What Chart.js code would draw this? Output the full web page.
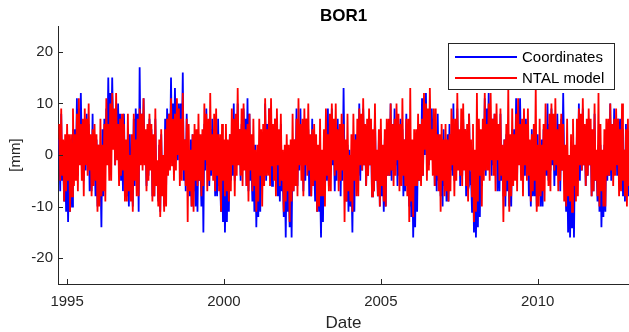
<!DOCTYPE html>
<html>
<head>
<meta charset="utf-8">
<script src="https://cdn.jsdelivr.net/npm/chart.js@4"></script>
<style>
  body { margin: 0; background: #fff; }
  canvas { display: block; }
</style>
</head>
<body>
<canvas id="js-bor1-chart" width="629" height="332"></canvas>
<script>
const chartTitle = 'BOR1';
const seriesLabels = ['Coordinates', 'NTAL model'];
const seriesColors = ['#0000ff', '#ff0000'];
const xTicks = [1995, 2000, 2005, 2010];
const yTicks = [-20, -10, 0, 10, 20];

// sampling of the series: 32 values per year from 1994.75
const startYear = 1994.75;
const stepYear = 1 / 32;

// [mm] (one row per year)
const coordinates = [
  3, -7, 8, -5, -2, -9, 2, -11,
  3, -13, -2, -11, 3, -10, 5, -4, 5, -3, 11, -4, 9, 0, 12, 1, 5, -5, 6, -3, 8, -1, 6, -7, 3, -7, 8, -5, -1, -8, 3, -10,
  2, -9, -3, -14, 5, -8, 7, -2, 9, 1, 15, 0, 12, 3, 15, 4, 8, -2, 9, 0, 10, 1, 8, -5, 3, -7, 8, -5, -1, -8, 3, -10,
  4, -7, -1, -10, 7, -6, 9, 0, 8, -11, 17, -1, 8, -1, 11, 0, 4, -6, 5, -4, 7, -2, 5, -8, 2, -8, 7, -6, -2, -9, 2, -11,
  4, -7, -1, -10, 7, -6, 9, 0, 8, 0, 15, -1, 10, 1, 13, 2, 9, -1, 10, 1, 10, 1, 16, -5, 3, -7, 8, -5, -1, -8, 3, -10,
  4, -7, -1, -10, 2, -11, 4, -5, -2, -10, 4, -15, 6, -3, 9, -2, 4, -6, 5, -4, 7, -2, 5, -8, 2, -8, 7, -6, -4, -11, 0, -13,
  1, -15, -4, -13, 2, -11, 4, -5, 4, -4, 10, -5, 7, -2, 10, -1, 5, -5, 6, -3, 9, 0, 7, -6, 11, -7, 8, -5, -2, -9, 2, -11,
  2, -14, -3, -12, 2, -11, 4, -5, 4, -4, 10, -5, 6, -3, 9, -2, 4, -6, 5, -4, 7, -2, 5, -8, 1, -9, 6, -7, -5, -12, -1, -16,
  0, -11, -5, -14, 0, -16, 2, -7, 3, -5, 9, -6, 6, -3, 9, -2, 3, -7, 4, -5, 7, -2, 5, -8, 2, -8, 7, -6, -2, -9, 2, -11,
  0, -11, -5, -16, 0, -13, 2, -7, 3, -5, 9, -6, 6, -3, 9, -2, 3, -7, 4, -5, 7, -2, 5, -8, 5, -5, 13, -3, -2, -9, 2, -11,
  1, -10, -4, -15, 2, -11, 4, -5, 4, -4, 10, -5, 6, -3, 9, -2, 4, -6, 5, -4, 7, -2, 5, -8, 3, -7, 8, -5, -1, -8, 3, -10,
  3, -8, -2, -11, 3, -10, 5, -4, 4, -4, 10, -5, 6, -3, 9, -2, 4, -6, 5, -4, 7, -2, 5, -8, 3, -7, 8, -5, -3, -10, 1, -12,
  0, -16, -5, -14, 2, -11, 4, -5, 5, -3, 11, -4, 9, 0, 12, 1, 8, -2, 9, 0, 9, 0, 7, -6, 3, -7, 8, -5, -1, -8, 3, -10,
  5, -6, 0, -9, 4, -9, 6, -3, 4, -4, 10, -5, 6, -3, 9, -2, 4, -6, 5, -4, 7, -2, 5, -8, 3, -7, 8, -5, -4, -11, 0, -15,
  0, -16, -5, -14, 1, -12, 3, -6, 5, -3, 11, -4, 9, 0, 12, 1, 6, -4, 7, -2, 8, -1, 6, -7, 3, -7, 8, -5, -1, -8, 3, -10,
  4, -7, -1, -10, 3, -10, 5, -4, 5, -3, 11, -4, 8, -1, 11, 0, 4, -6, 5, -4, 7, -2, 5, -8, 0, -10, 5, -8, -1, -8, 3, -10,
  4, -7, -1, -10, 3, -10, 5, -4, 4, -4, 10, -5, 6, -3, 9, -2, 4, -6, 5, -4, 8, -1, 6, -7, 7, -3, 12, -1, -4, -11, 0, -15,
  0, -16, -5, -14, -1, -16, 1, -8, 4, -4, 10, -5, 6, -3, 9, -2, 4, -6, 5, -4, 7, -2, 5, -8, 3, -7, 8, -5, -2, -9, 2, -11,
  2, -14, -3, -12, 2, -11, 4, -5, 4, -4, 10, -5, 6, -3, 9, -2, 6, -4, 7, -2, 7, -2, 5, -8, 1, -9, 6, -7, -1, -8
];
const ntalModel = [
  6, -5, 9, -4, 3, -9, 4, -7,
  6, -5, 4, -11, 4, -8, 9, -6, 4, -5, 8, -7, 11, -2, 6, -5, 7, -8, 9, -2, 7, -4, 10, -3, 4, -8, 5, -6, 6, -5, 4, -11,
  2, -10, 7, -8, 2, -7, 6, -9, 11, -2, 6, -5, 10, -5, 12, 1, 9, -2, 12, -1, 6, -6, 7, -4, 8, -3, 6, -9, 3, -9, 8, -7,
  0, -9, 4, -11, 8, -5, 3, -8, 7, -8, 9, -2, 8, -3, 11, -2, 5, -7, 6, -5, 8, -3, 6, -9, 4, -8, 9, -6, -1, -10, 3, -12,
  5, -8, 0, -11, 5, -10, 7, -4, 8, -3, 11, -2, 7, -5, 8, -3, 11, 0, 9, -6, 7, -5, 12, -3, 3, -6, 7, -13, 6, -7, 1, -10,
  4, -11, 6, -5, 5, -6, 8, -5, 4, -8, 5, -6, 10, -1, 8, -7, 7, -5, 12, -3, 4, -5, 8, -7, 9, -4, 4, -7, 4, -11, 6, -5,
  3, -8, 6, -7, 3, -9, 4, -7, 9, -2, 7, -8, 8, -4, 13, -2, 5, -4, 9, -6, 10, -3, 5, -6, 6, -9, 8, -3, 4, -7, 7, -6,
  1, -11, 2, -9, 7, -4, 5, -10, 6, -6, 11, -4, 5, -4, 9, -6, 11, -2, 6, -5, 7, -8, 9, -2, 5, -6, 8, -5, 1, -11, 2, -9,
  4, -7, 2, -13, 3, -9, 8, -7, 3, -6, 7, -8, 11, -2, 6, -5, 7, -8, 9, -2, 7, -4, 10, -3, 4, -8, 5, -6, 6, -5, 4, -11,
  2, -10, 7, -8, 1, -8, 5, -10, 9, -4, 4, -7, 8, -7, 10, -1, 7, -4, 10, -3, 5, -7, 6, -5, 8, -3, 6, -13, 3, -9, 8, -7,
  0, -9, 4, -11, 8, -5, 3, -8, 7, -8, 9, -2, 8, -3, 11, -2, 6, -6, 7, -4, 9, -2, 7, -8, 5, -7, 10, -5, 1, -8, 5, -10,
  7, -6, 2, -9, 5, -10, 7, -4, 7, -4, 10, -3, 6, -6, 7, -4, 10, -1, 8, -7, 6, -6, 11, -4, 3, -6, 7, -8, 7, -13, 13, -9,
  3, -12, 5, -6, 5, -6, 8, -5, 6, -6, 7, -4, 12, 1, 10, -5, 9, -3, 13, -1, 5, -4, 9, -6, 9, -4, 4, -7, 4, -11, 6, -5,
  3, -8, 6, -7, 3, -9, 4, -7, 9, -2, 7, -8, 7, -5, 12, -3, 5, -4, 9, -6, 10, -3, 5, -6, 6, -9, 8, -3, 3, -8, 6, -13,
  1, -11, 12, -9, 7, -4, 5, -10, 7, -5, 12, -3, 6, -3, 10, -5, 12, -1, 7, -4, 8, -7, 10, -1, 6, -5, 9, -4, 2, -13, 3, -8,
  6, -5, 13, -11, 4, -8, 9, -6, 4, -5, 8, -7, 11, -2, 6, -5, 7, -8, 9, -2, 6, -5, 9, -4, 3, -9, 4, -7, 6, -5, 13, -11,
  2, -10, 7, -8, 2, -7, 6, -9, 10, -3, 5, -6, 8, -7, 10, -1, 8, -3, 11, -2, 5, -7, 6, -5, 8, -3, 6, -9, 2, -10, 7, -8,
  0, -9, 4, -11, 7, -6, 2, -9, 7, -8, 9, -2, 8, -3, 11, -2, 6, -6, 7, -4, 9, -2, 7, -8, 5, -7, 10, -5, 1, -8, 12, -10,
  6, -7, 1, -10, 5, -10, 7, -4, 7, -4, 10, -3, 6, -6, 7, -4, 9, -2, 7, -8, 5, -7, 10, -5, 1, -8, 5, -10, 7, -6
];

const toPoints = values => values.map((v, i) => ({ x: startYear + i * stepYear, y: v }));

const axisColor = '#262626';
const fontFamily = '"Liberation Sans", Arial, sans-serif';

// title, inward ticks and the boxed legend, MATLAB style
const matlabLook = {
  id: 'matlabLook',
  afterDraw(chart) {
    const { ctx, chartArea: { left, right, top, bottom }, scales: { x, y } } = chart;
    ctx.save();
    ctx.strokeStyle = axisColor;
    ctx.lineWidth = 1;
    x.ticks.forEach(t => {
      const px = Math.round(x.getPixelForValue(t.value)) + 0.5;
      ctx.beginPath();
      ctx.moveTo(px, bottom);
      ctx.lineTo(px, bottom - 5);
      ctx.stroke();
    });
    y.ticks.forEach(t => {
      const py = Math.round(y.getPixelForValue(t.value)) + 0.5;
      ctx.beginPath();
      ctx.moveTo(left, py);
      ctx.lineTo(left + 5, py);
      ctx.stroke();
    });

    ctx.fillStyle = '#000';
    ctx.font = 'bold 17px ' + fontFamily;
    ctx.textAlign = 'center';
    ctx.textBaseline = 'middle';
    ctx.fillText(chartTitle, (left + right) / 2, 16);

    // legend box
    const bx = 448.5, by = 43.5, bw = 166, bh = 46;
    ctx.fillStyle = '#fff';
    ctx.fillRect(bx, by, bw, bh);
    ctx.strokeStyle = axisColor;
    ctx.strokeRect(bx, by, bw, bh);
    ctx.font = '15px ' + fontFamily;
    ctx.textAlign = 'left';
    chart.data.datasets.forEach((ds, i) => {
      const ly = 57 + i * 21;
      ctx.strokeStyle = ds.borderColor;
      ctx.lineWidth = 2;
      ctx.beginPath();
      ctx.moveTo(455, ly);
      ctx.lineTo(517, ly);
      ctx.stroke();
      ctx.fillStyle = '#000';
      ctx.fillText(ds.label, 522, ly + 1);
    });
    ctx.restore();
  }
};

const ctx = document.getElementById('js-bor1-chart').getContext('2d');

const bor1Chart = new Chart(ctx, {
  type: 'line',
  data: {
    datasets: [
      { label: seriesLabels[0], data: toPoints(coordinates), borderColor: seriesColors[0], order: 1 },
      { label: seriesLabels[1], data: toPoints(ntalModel), borderColor: seriesColors[1], order: 0 }
    ]
  },
  options: {
    responsive: false,
    animation: false,
    layout: { padding: { top: 26, right: 0, left: 0, bottom: 0 } },
    elements: {
      point: { radius: 0 },
      line: { borderWidth: 1.8, tension: 0 }
    },
    plugins: {
      legend: { display: false },
      title: { display: false },
      tooltip: { enabled: false }
    },
    scales: {
      x: {
        type: 'linear',
        min: 1994.71,
        max: 2012.91,
        afterBuildTicks: s => { s.ticks = xTicks.map(v => ({ value: v })); },
        afterFit: s => { s.height = 48; },
        grid: { display: false, drawTicks: false },
        border: { display: true, color: axisColor, width: 1 },
        ticks: {
          padding: 9,
          color: axisColor,
          font: { family: fontFamily, size: 15 },
          maxRotation: 0,
          callback: v => String(v)
        },
        title: {
          display: true,
          text: 'Date',
          color: axisColor,
          font: { family: fontFamily, size: 17 },
          padding: { top: 0, bottom: -2 }
        }
      },
      y: {
        min: -25,
        max: 25,
        afterBuildTicks: s => { s.ticks = yTicks.map(v => ({ value: v })); },
        afterFit: s => { s.width = 58; },
        grid: { display: false, drawTicks: false },
        border: { display: true, color: axisColor, width: 1 },
        ticks: {
          padding: 5,
          color: axisColor,
          font: { family: fontFamily, size: 15 },
          callback: v => String(v)
        },
        title: {
          display: true,
          text: '[mm]',
          color: axisColor,
          font: { family: fontFamily, size: 15 },
          padding: 7
        }
      }
    }
  },
  plugins: [matlabLook]
});
</script>
</body>
</html>
